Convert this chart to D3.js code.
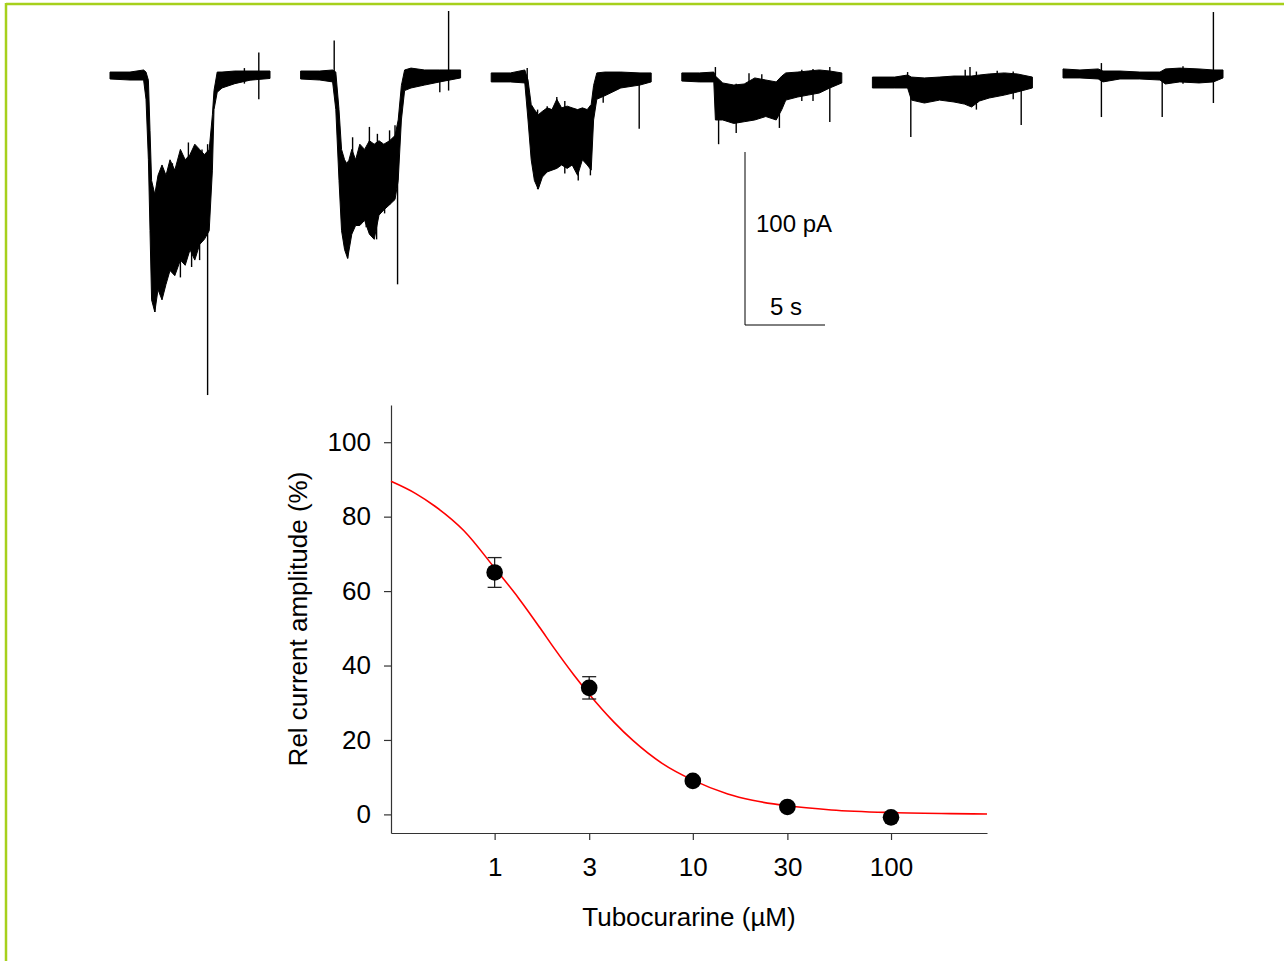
<!DOCTYPE html>
<html>
<head>
<meta charset="utf-8">
<script src="https://cdn.jsdelivr.net/npm/d3@7"></script>
<style>
  body { margin: 0; background: #fff; }
  text { font-family: "Liberation Sans", Arial, sans-serif; fill: #000; }
</style>
</head>
<body>
<div id="fig"></div>
<script>
// ---- current traces: [time (s), upper edge (pA), lower edge (pA)] ----
const trace1 = [[0,1.7,-2.3],[1.25,1.7,-2.9],[2.1,2.9,-2.9],[2.25,1.7,-14],[2.4,-3,-49],[2.5,-32,-90],
  [2.6,-61,-130],[2.8,-69,-137],[3.0,-58,-124],[3.25,-52,-130],[3.5,-58,-121],[3.75,-49,-113],
  [4.05,-55,-116],[4.4,-43,-107],[4.7,-49,-110],[5.0,-46,-101],[5.3,-40,-107],[5.6,-43,-98],
  [5.9,-46,-95],[6.2,-43,-90],[6.4,-23,-55],[6.5,-9,-20],[6.7,1.7,-10],[7.0,1.7,-7.5],
  [7.8,2.3,-5],[8.75,2.3,-3],[10,2.3,-2]];
const trace2 = [[0,2.3,-2.3],[1.2,2.3,-2.9],[2.0,2.9,-4],[2.2,1.7,-20],[2.4,-20,-61],[2.56,-43,-90],
  [2.75,-49,-101],[2.94,-52,-106],[3.2,-43,-92],[3.44,-49,-87],[3.7,-40,-87],[4.0,-43,-84],
  [4.3,-38,-92],[4.6,-40,-95],[4.9,-38,-81],[5.2,-40,-78],[5.56,-38,-75],[5.9,-35,-72],
  [6.1,-26,-61],[6.3,-6,-26],[6.5,2.9,-9],[6.9,4,-7.5],[7.75,2.9,-5.8],[8.7,2.9,-4],[10,2.9,-1.7]];
const trace3 = [[0,1.2,-4],[1.2,1.2,-4],[2.1,2.9,-4.6],[2.3,-2.9,-26],[2.5,-17,-49],[2.7,-20,-61],
  [2.94,-23,-66],[3.2,-21,-59],[3.5,-19,-56],[3.8,-20,-55],[4.1,-14,-54],[4.4,-19,-52],
  [4.75,-18,-54],[5.06,-19,-52],[5.4,-20,-58],[5.7,-19,-49],[6.0,-20,-52],[6.25,-17,-55],
  [6.4,-6,-26],[6.6,1.2,-14],[7.1,1.7,-12],[8.1,1.7,-7.5],[9.3,1.2,-5.8],[10,1.2,-4]];
const trace4 = [[0,1.2,-3.5],[1.1,1.2,-4],[2.0,1.7,-4],[2.1,-0.6,-26],[2.56,-4.6,-26],[3.25,-5.8,-28],
  [3.9,-5.2,-27],[4.56,-1.7,-26],[5.25,-2.9,-24],[5.9,-4,-26],[6.25,-0.6,-20],[6.5,1.2,-14.5],
  [7.25,1.7,-12.7],[7.9,2.3,-11.6],[8.6,2.9,-10.4],[9.25,2.3,-7.5],[10,1.2,-4.6]];
const trace5 = [[0,-1.2,-7.5],[1.4,-1.2,-7.5],[2.2,0,-7.5],[2.44,-1.2,-14.5],[3.25,-1.7,-16.2],
  [4.2,-1.2,-14.5],[5.1,-0.6,-15.6],[5.75,-0.6,-16.8],[6.2,-0.6,-18.5],[6.7,0,-15],[7.3,0.6,-13.3],
  [8.25,1.2,-11.6],[9.06,0.6,-9.8],[10,-1.2,-7.5]];
const trace6 = [[0,3.5,-1.7],[1.06,2.9,-1.7],[2.2,3.5,-2.3],[2.5,2.3,-4],[3.56,2.3,-2.3],[4.8,1.7,-2.3],
  [6.06,1.7,-2.9],[6.4,3.5,-5.2],[7.3,4,-4],[8.5,3.5,-4.6],[9.4,2.9,-4],[10,2.9,-1.7]];

// spikes / noise excursions: [time (s), top (pA), bottom (pA)]
const spikes1 = [[2.8,-70,-137],[3.3,-54,-120],[3.75,-55,-113],[3.9,-51,-100],[4.4,-60,-117],
  [4.5,-53,-95],[4.9,-39,-90],[5.1,-50,-111],[5.4,-45,-95],[5.6,-50,-107],[5.75,-43,-90],
  [6.1,-40,-185],[8.4,4,-5],[9.3,13,-14]];
const spikes2 = [[2.1,20,-3],[2.94,-50,-106],[3.25,-36,-85],[3.7,-45,-80],[4.1,-45,-88],[4.3,-30,-80],
  [4.75,-45,-95],[4.8,-34,-80],[5.25,-40,-80],[5.56,-32,-75],[5.9,-29,-65],[6.06,-30,-121],
  [8.7,1,-10],[9.25,37,-9]];
const spikes3 = [[2.25,4,-5],[2.9,-20,-66],[3.5,-18,-50],[4.1,-12.7,-45],[4.6,-15,-57],
  [5.44,-20,-61],[6.2,-20,-58],[7.0,1,-16],[9.25,0,-31]];
const spikes4 = [[2.1,4.6,-5],[2.3,-5,-40],[3.4,-5,-33.5],[4.2,1,-20],[5.0,0.5,-20],[6.1,-5,-30.6],
  [7.5,3,-15],[8.2,3.5,-15],[9.25,4.6,-27.2]];
const spikes5 = [[2.2,1.7,-5],[2.4,-2,-35.8],[5.8,3,-10],[6.1,4.6,-10],[6.5,2,-20],[7.8,2.5,-12],
  [8.8,2,-14],[9.3,-2,-28.9]];
const spikes6 = [[2.4,6.9,-24.3],[6.2,0,-24.3],[7.5,5,-5],[9.4,36.4,-16.2]];

const traces = [trace1, trace2, trace3, trace4, trace5, trace6];
const spikes = [spikes1, spikes2, spikes3, spikes4, spikes5, spikes6];

// ---- concentration-response ----
const conc = [1, 3, 10, 30, 100];
const amp = [65, 34, 9, 2, -0.8];
const ampErr = [4, 3, 0.8, 0.6, 0.5];
// fitted curve: [conc (uM), %]
const fitCurve = [[0.3,89.5],[0.4,86.2],[0.5,82.8],[0.7,76.2],[1,66.2],[1.33,57.9],[1.7,50],
  [2,44.6],[2.5,37.6],[3,32.3],[4,24.8],[5,19.8],[7,13.7],[10,9.2],[15,5.5],[20,3.8],
  [30,2.3],[50,1.2],[100,0.5],[200,0.2],[305,0.12]];
const xTicks = [1, 3, 10, 30, 100];
const yTicks = [0, 20, 40, 60, 80, 100];

const W = 1284, H = 961;
const svg = d3.select("#fig").append("svg").attr("width", W).attr("height", H);

// green frame
svg.append("line").attr("x1", 6).attr("x2", W).attr("y1", 4).attr("y2", 4)
  .attr("stroke", "#a6d01c").attr("stroke-width", 2.5);
svg.append("line").attr("x1", 6).attr("x2", 6).attr("y1", 3).attr("y2", H)
  .attr("stroke", "#a6d01c").attr("stroke-width", 2.5);

// ---- traces ----
const tx = d3.scaleLinear().domain([0, 10]).range([0, 160]);
const ty = d3.scaleLinear().domain([0, -100]).range([75, 248]);
const traceStart = d3.scaleLinear().domain([0, 5]).range([110, 1063]);

const area = d3.area()
  .x(d => tx(d[0]))
  .y0(d => ty(d[2]))
  .y1(d => ty(d[1]));

traces.forEach((tr, i) => {
  const g = svg.append("g").attr("transform", `translate(${traceStart(i)},0)`);
  g.append("path").datum(tr)
    .attr("d", area)
    .attr("fill", "#000")
    .attr("stroke", "#000")
    .attr("stroke-width", 1)
    .attr("stroke-linejoin", "round");
  g.selectAll("line.spike")
    .data(spikes[i])
    .enter().append("line")
    .attr("class", "spike")
    .attr("x1", d => tx(d[0])).attr("x2", d => tx(d[0]))
    .attr("y1", d => ty(d[1])).attr("y2", d => ty(d[2]))
    .attr("stroke", "#000")
    .attr("stroke-width", 1.4);
});

// scale bar
const sb = svg.append("g").attr("transform", "translate(745,325)");
const barH = ty(-100) - ty(0), barW = tx(5) - tx(0);
sb.append("path")
  .attr("d", `M0,${-barH}V0H${barW}`)
  .attr("fill", "none").attr("stroke", "#000").attr("stroke-width", 1);
sb.append("text").attr("x", 11).attr("y", -93).style("font-size", "24px").text("100 pA");
sb.append("text").attr("x", 25).attr("y", -10).style("font-size", "24px").text("5 s");

// ---- concentration-response plot ----
const x = d3.scaleLog().domain([0.3, 305]).range([391, 987]);
const y = d3.scaleLinear().domain([-5, 110]).range([833, 405]);

const xAxis = svg.append("g").attr("transform", "translate(0,833)")
  .call(d3.axisBottom(x).tickValues(xTicks).tickFormat(d3.format("d")).tickSize(7).tickSizeOuter(0).tickPadding(18));
const yAxis = svg.append("g").attr("transform", "translate(391,0)")
  .call(d3.axisLeft(y).tickValues(yTicks).tickSize(7).tickSizeOuter(0).tickPadding(13));

[xAxis, yAxis].forEach(a => {
  a.selectAll("path, line").attr("stroke", "#333").attr("stroke-width", 1.2);
  a.selectAll("text").style("font-size", "26px").style("font-family", "'Liberation Sans', Arial, sans-serif").attr("fill", "#000");
});

svg.append("text")
  .attr("x", 689).attr("y", 926)
  .attr("text-anchor", "middle")
  .style("font-size", "26px")
  .text("Tubocurarine (\u00B5M)");

svg.append("text")
  .attr("transform", "translate(307,619) rotate(-90)")
  .attr("text-anchor", "middle")
  .style("font-size", "26px")
  .text("Rel current amplitude (%)");

// fit line
const line = d3.line()
  .x(d => x(d[0]))
  .y(d => y(d[1]))
  .curve(d3.curveMonotoneX);
svg.append("path").datum(fitCurve)
  .attr("d", line)
  .attr("fill", "none")
  .attr("stroke", "#ff0000")
  .attr("stroke-width", 1.6);

const pts = conc.map((c, i) => ({ c: c, v: amp[i], e: ampErr[i] }));

// error bars
const eb = svg.append("g").attr("stroke", "#222").attr("stroke-width", 1.3);
eb.selectAll("line.v").data(pts).enter().append("line")
  .attr("x1", d => x(d.c)).attr("x2", d => x(d.c))
  .attr("y1", d => y(d.v - d.e)).attr("y2", d => y(d.v + d.e));
eb.selectAll("line.top").data(pts).enter().append("line")
  .attr("x1", d => x(d.c) - 7).attr("x2", d => x(d.c) + 7)
  .attr("y1", d => y(d.v + d.e)).attr("y2", d => y(d.v + d.e));
eb.selectAll("line.bot").data(pts).enter().append("line")
  .attr("x1", d => x(d.c) - 7).attr("x2", d => x(d.c) + 7)
  .attr("y1", d => y(d.v - d.e)).attr("y2", d => y(d.v - d.e));

svg.selectAll("circle.pt").data(pts).enter().append("circle")
  .attr("class", "pt")
  .attr("cx", d => x(d.c))
  .attr("cy", d => y(d.v))
  .attr("r", 8.3)
  .attr("fill", "#000");
</script>
</body>
</html>
